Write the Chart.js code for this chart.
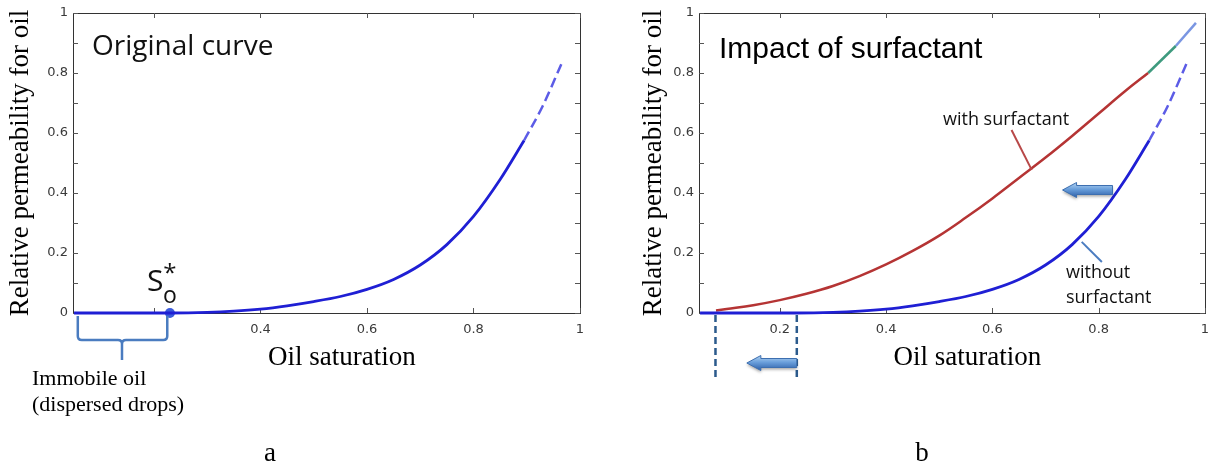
<!DOCTYPE html>
<html>
<head>
<meta charset="utf-8">
<script src="https://cdn.jsdelivr.net/npm/chart.js@4.4.1/dist/chart.umd.min.js"></script>
<style>
  html, body { margin: 0; padding: 0; background: #fff; }
  #wrap { position: relative; width: 1221px; height: 466px; overflow: hidden; }
  .panel { position: absolute; top: 0; height: 466px; }
  #pa { left: 0; width: 620px; }
  #pb { left: 620px; width: 601px; }
</style>
</head>
<body>
<div id="wrap">
  <div class="panel" id="pa"><canvas id="ca" width="620" height="466"></canvas></div>
  <div class="panel" id="pb"><canvas id="cb" width="601" height="466"></canvas></div>
</div>
<script>
// Oil saturation and relative permeability, original curve (solid part + dashed tail)
const satBase = [0.05, 0.1, 0.15, 0.2, 0.23, 0.3, 0.35, 0.4, 0.45, 0.5, 0.55, 0.6, 0.65, 0.7, 0.75, 0.8, 0.85, 0.895];
const krBase  = [0, 0, 0, 0, 0, 0.002, 0.006, 0.013, 0.024, 0.038, 0.055, 0.079, 0.112, 0.16, 0.228, 0.322, 0.445, 0.575];
const satTail = [0.895, 0.93, 0.965];
const krTail  = [0.575, 0.69, 0.83];

// Curve with surfactant (red part, then green and light-blue end pieces)
const satSurf = [0.08, 0.1, 0.15, 0.2, 0.25, 0.3, 0.35, 0.4, 0.45, 0.5, 0.55, 0.6, 0.65, 0.7, 0.75, 0.8, 0.85, 0.893];
const krSurf  = [0.008, 0.013, 0.026, 0.043, 0.064, 0.09, 0.123, 0.162, 0.207, 0.258, 0.318, 0.382, 0.45, 0.518, 0.59, 0.665, 0.74, 0.8];
const satSurfMid = [0.893, 0.945];
const krSurfMid  = [0.8, 0.89];
const satSurfEnd = [0.945, 0.983];
const krSurfEnd  = [0.89, 0.967];

// Residual (immobile) oil saturation point S*o
const satResidual = 0.23;

// Ticks
const xTickValues  = [0.2, 0.4, 0.6, 0.8, 1];
const xTickLabelsA = ['', '0.4', '0.6', '0.8', '1'];
const xTickLabelsB = ['0.2', '0.4', '0.6', '0.8', '1'];
const yTickValues  = [0, 0.1, 0.2, 0.3, 0.4, 0.5, 0.6, 0.7, 0.8, 0.9, 1];
const yTickLabels  = ['0', '', '0.2', '', '0.4', '', '0.6', '', '0.8', '', '1'];

const pts = (xs, ys) => xs.map((x, i) => ({ x, y: ys[i] }));

const SERIF = '"Liberation Serif", "Times New Roman", serif';
const SANS  = '"Open Sans", "Noto Sans", sans-serif';
const ARIAL = '"Liberation Sans", Arial, sans-serif';

// Box frame with inward tick marks on all four sides
const frameTicks = {
  id: 'frameTicks',
  beforeDatasetsDraw(chart) {
    const { ctx, chartArea: a, scales: { x, y } } = chart;
    ctx.save();
    ctx.strokeStyle = '#333';
    ctx.lineWidth = 1;
    ctx.strokeRect(a.left + 0.5, a.top + 0.5, a.right - a.left, a.bottom - a.top);
    ctx.strokeStyle = '#555';
    ctx.beginPath();
    y.ticks.forEach(t => {
      const py = Math.round(y.getPixelForValue(t.value)) + 0.5;
      ctx.moveTo(a.left, py); ctx.lineTo(a.left + 5, py);
      ctx.moveTo(a.right, py); ctx.lineTo(a.right - 5, py);
    });
    x.ticks.forEach(t => {
      const px = Math.round(x.getPixelForValue(t.value)) + 0.5;
      ctx.moveTo(px, a.top); ctx.lineTo(px, a.top + 5);
      ctx.moveTo(px, a.bottom); ctx.lineTo(px, a.bottom - 5);
    });
    ctx.stroke();
    ctx.restore();
  }
};

function text(ctx, str, x, y, font, color, align) {
  ctx.font = font;
  ctx.fillStyle = color || '#000';
  ctx.textAlign = align || 'left';
  ctx.textBaseline = 'alphabetic';
  ctx.fillText(str, x, y);
}

function line(ctx, x1, y1, x2, y2, color, width, dash) {
  ctx.save();
  ctx.strokeStyle = color;
  ctx.lineWidth = width;
  ctx.setLineDash(dash || []);
  ctx.beginPath();
  ctx.moveTo(x1, y1);
  ctx.lineTo(x2, y2);
  ctx.stroke();
  ctx.restore();
}

// Shaded block arrow pointing left
function blockArrow(ctx, tipX, tailX, cy) {
  const headLen = 14, bodyH = 9, headH = 15;
  ctx.save();
  const g = ctx.createLinearGradient(0, cy - headH / 2, 0, cy + headH / 2);
  g.addColorStop(0, '#b4d4f2');
  g.addColorStop(0.45, '#6a9fdb');
  g.addColorStop(1, '#2d5fa8');
  ctx.beginPath();
  ctx.moveTo(tipX, cy);
  ctx.lineTo(tipX + headLen, cy - headH / 2);
  ctx.lineTo(tipX + headLen, cy - bodyH / 2);
  ctx.lineTo(tailX, cy - bodyH / 2);
  ctx.lineTo(tailX, cy + bodyH / 2);
  ctx.lineTo(tipX + headLen, cy + bodyH / 2);
  ctx.lineTo(tipX + headLen, cy + headH / 2);
  ctx.closePath();
  ctx.shadowColor = 'rgba(0,0,0,0.35)';
  ctx.shadowBlur = 3;
  ctx.shadowOffsetY = 2;
  ctx.fillStyle = g;
  ctx.fill();
  ctx.shadowColor = 'transparent';
  ctx.strokeStyle = '#3d6fb0';
  ctx.lineWidth = 1;
  ctx.stroke();
  ctx.restore();
}

function xTitle(ctx, xs) {
  text(ctx, 'Oil saturation', xs.getPixelForValue(0.553), 365, '27px ' + SERIF, '#000', 'center');
}

const notesA = {
  id: 'notesA',
  afterDraw(chart) {
    const { ctx, scales: { x, y } } = chart;
    ctx.save();
    text(ctx, 'Original curve', 92, 55, '28px ' + SANS, '#111');
    // S*o label over the residual point
    const px = x.getPixelForValue(satResidual);
    text(ctx, 'S', px - 23, 291, '30px ' + SANS, '#111');
    text(ctx, 'o', px, 303, '23px ' + SANS, '#111', 'center');
    text(ctx, '*', px, 281, '24px ' + SANS, '#111', 'center');
    // brace under the immobile range
    const l = x.getPixelForValue(0.057), r = x.getPixelForValue(0.225), m = x.getPixelForValue(0.14);
    const top = y.getPixelForValue(0) + 3, hb = 340;
    ctx.strokeStyle = '#4a7cc0';
    ctx.lineWidth = 2.5;
    ctx.lineJoin = 'round';
    ctx.beginPath();
    ctx.moveTo(l, top);
    ctx.lineTo(l, hb - 4);
    ctx.quadraticCurveTo(l, hb, l + 4, hb);
    ctx.lineTo(m - 4, hb);
    ctx.quadraticCurveTo(m, hb, m, hb + 4);
    ctx.lineTo(m, 360);
    ctx.moveTo(m, hb + 4);
    ctx.quadraticCurveTo(m, hb, m + 4, hb);
    ctx.lineTo(r - 4, hb);
    ctx.quadraticCurveTo(r, hb, r, hb - 4);
    ctx.lineTo(r, top);
    ctx.stroke();
    text(ctx, 'Immobile oil', 32, 385, '22px ' + SERIF, '#000');
    text(ctx, '(dispersed drops)', 32, 411, '22px ' + SERIF, '#000');
    xTitle(ctx, x);
    text(ctx, 'a', 270, 461, '27px ' + SERIF, '#000', 'center');
    ctx.restore();
  }
};

const notesB = {
  id: 'notesB',
  afterDraw(chart) {
    const { ctx, scales: { x, y } } = chart;
    ctx.save();
    text(ctx, 'Impact of surfactant', 99, 58, '30px ' + ARIAL, '#000');
    text(ctx, 'with surfactant', 323, 125, '18px ' + SANS, '#111');
    line(ctx, x.getPixelForValue(0.636), y.getPixelForValue(0.61), x.getPixelForValue(0.674), y.getPixelForValue(0.477), '#b84848', 2);
    text(ctx, 'without', 446, 278, '18px ' + SANS, '#111');
    text(ctx, 'surfactant', 446, 303, '18px ' + SANS, '#111');
    line(ctx, x.getPixelForValue(0.768), y.getPixelForValue(0.237), x.getPixelForValue(0.806), y.getPixelForValue(0.17), '#4a7cc0', 2);
    blockArrow(ctx, x.getPixelForValue(0.732), x.getPixelForValue(0.826), y.getPixelForValue(0.41));
    // shift of residual saturation
    const d1 = x.getPixelForValue(0.079), d2 = x.getPixelForValue(0.232);
    const base = y.getPixelForValue(0);
    line(ctx, d1, base + 2, d1, 378, '#2b5a8c', 2.5, [7, 4]);
    line(ctx, d2, base + 2, d2, 378, '#2b5a8c', 2.5, [7, 4]);
    blockArrow(ctx, x.getPixelForValue(0.138), d2, 363);
    xTitle(ctx, x);
    text(ctx, 'b', 302, 461, '27px ' + SERIF, '#000', 'center');
    ctx.restore();
  }
};

function makeOptions(yAxisWidth, yTitlePad, rightPad, xLabels) {
  return {
    responsive: false,
    animation: false,
    events: [],
    layout: { padding: { left: 0, right: rightPad, top: 13, bottom: 95 } },
    plugins: { legend: { display: false }, tooltip: { enabled: false } },
    elements: { point: { radius: 0 } },
    scales: {
      x: {
        type: 'linear',
        min: 0.048,
        max: 1,
        grid: { display: false, drawTicks: false },
        border: { display: false },
        afterBuildTicks: s => { s.ticks = xTickValues.map(v => ({ value: v })); },
        afterFit: s => { s.height = 58; },
        ticks: {
          padding: 9,
          maxRotation: 0,
          autoSkip: false,
          color: '#3a3a3a',
          font: { family: 'DejaVu Sans', size: 13 },
          callback: (v, i) => xLabels[i]
        }
      },
      y: {
        type: 'linear',
        min: 0,
        max: 1,
        grid: { display: false, drawTicks: false },
        border: { display: false },
        afterBuildTicks: s => { s.ticks = yTickValues.map(v => ({ value: v })); },
        afterFit: s => { s.width = yAxisWidth; },
        ticks: {
          padding: 5,
          autoSkip: false,
          color: '#3a3a3a',
          font: { family: 'DejaVu Sans', size: 13 },
          callback: (v, i) => yTickLabels[i]
        },
        title: {
          display: true,
          text: 'Relative permeability for oil',
          color: '#000',
          font: { family: 'Liberation Serif', size: 27 },
          padding: { top: yTitlePad, bottom: 0 }
        }
      }
    }
  };
}

const solidBase = color => ({
  data: pts(satBase, krBase), borderColor: color, borderWidth: 2.8,
  cubicInterpolationMode: 'monotone', clip: false
});
const dashedTail = () => ({
  data: pts(satTail, krTail), borderColor: '#5c5ce6', borderWidth: 2.5,
  borderDash: [10, 5], cubicInterpolationMode: 'monotone', clip: false
});

new Chart(document.getElementById('ca'), {
  type: 'line',
  data: {
    datasets: [
      solidBase('#1f1fd4'),
      dashedTail(),
      {
        data: [{ x: satResidual, y: 0 }], showLine: false,
        pointRadius: 5, pointBackgroundColor: '#3b5bdb', pointBorderWidth: 0, clip: false
      }
    ]
  },
  options: makeOptions(73, 5, 40, xTickLabelsA),
  plugins: [frameTicks, notesA]
});

new Chart(document.getElementById('cb'), {
  type: 'line',
  data: {
    datasets: [
      solidBase('#1f1fd4'),
      dashedTail(),
      { data: pts(satSurf, krSurf), borderColor: '#b53434', borderWidth: 2.5, tension: 0.4, clip: false },
      { data: pts(satSurfMid, krSurfMid), borderColor: '#3e9a7e', borderWidth: 2.5, clip: false },
      { data: pts(satSurfEnd, krSurfEnd), borderColor: '#7a96e2', borderWidth: 2.5, clip: false }
    ]
  },
  options: makeOptions(79, 18, 16, xTickLabelsB),
  plugins: [frameTicks, notesB]
});
</script>
</body>
</html>
